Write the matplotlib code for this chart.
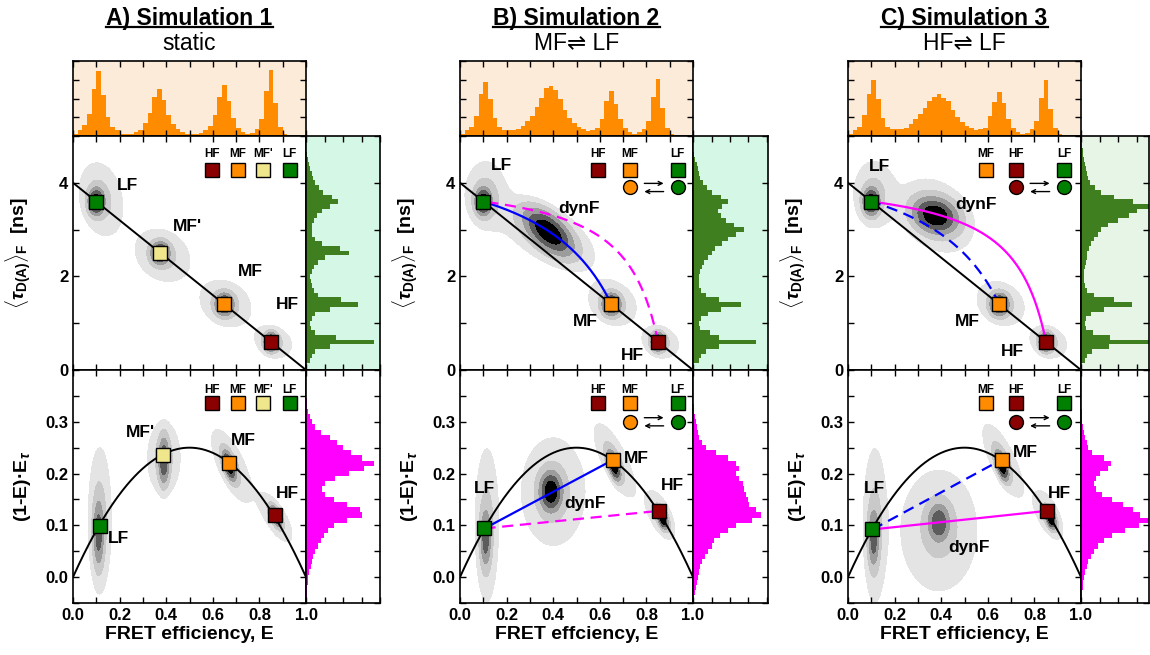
import matplotlib.pyplot as plt
import numpy as np
from matplotlib.lines import Line2D
from matplotlib.ticker import MultipleLocator

plt.rcParams['font.family'] = ['Liberation Sans', 'DejaVu Sans']
plt.rcParams['font.weight'] = 'bold'
plt.rcParams['axes.labelweight'] = 'bold'
plt.rcParams['mathtext.fontset'] = 'custom'
plt.rcParams['mathtext.rm'] = 'Liberation Sans'
plt.rcParams['mathtext.it'] = 'Liberation Sans:italic'
plt.rcParams['mathtext.bf'] = 'Liberation Sans:bold'
plt.rcParams['axes.linewidth'] = 1.2

W, H = 1150, 655
TAU_D0 = 4.0

titles = ['A) Simulation 1', 'B) Simulation 2', 'C) Simulation 3']
subtitles = ['static', 'MF\u21cc LF', 'HF\u21cc LF']
xlabels = ['FRET efficiency, E', 'FRET effciency, E', 'FRET efficiency, E']

# FRET efficiency histograms, 50 bins of 0.02 between 0 and 1
e_hist_a = [0.1, 0.3, 0.6, 1.2, 2.5, 3.45, 2.2, 1.0, 0.5, 0.3,
            0.12, 0.1, 0.1, 0.2, 0.3, 0.7, 1.25, 2.1, 2.5, 1.9,
            1.1, 0.65, 0.4, 0.2, 0.12, 0.1, 0.1, 0.15, 0.3, 0.55,
            1.1, 2.1, 2.7, 1.85, 0.95, 0.45, 0.2, 0.1, 0.15, 0.35,
            0.9, 2.4, 3.5, 1.75, 0.5, 0.12, 0, 0, 0, 0]
e_hist_b = [0.1, 0.3, 0.5, 1.05, 2.25, 2.9, 2.0, 0.95, 0.5, 0.3,
            0.3, 0.3, 0.35, 0.55, 0.8, 1.05, 1.55, 2.05, 2.55, 2.65,
            2.45, 1.95, 1.4, 0.95, 0.7, 0.5, 0.35, 0.25, 0.3, 0.45,
            0.9, 1.85, 2.4, 1.7, 0.9, 0.45, 0.2, 0.1, 0.2, 0.35,
            0.8, 2.1, 3.05, 1.5, 0.45, 0.1, 0, 0, 0, 0]
e_hist_c = [0.1, 0.3, 0.5, 1.1, 2.25, 3.0, 2.0, 0.95, 0.5, 0.4,
            0.35, 0.4, 0.45, 0.65, 0.9, 1.15, 1.5, 1.85, 2.1, 2.25,
            2.05, 1.85, 1.4, 1.0, 0.75, 0.55, 0.45, 0.3, 0.35, 0.45,
            1.05, 1.8, 2.35, 1.75, 0.9, 0.45, 0.2, 0.1, 0.15, 0.35,
            0.8, 2.05, 3.0, 1.45, 0.45, 0.12, 0, 0, 0, 0]

# lifetime histograms, bins of 0.1 ns centred on 0.0 ... 5.0
tau_hist_a = [0, 0, 0.2, 0.3, 0.5, 1.3, 3.7, 1.6, 0.5, 0.25,
              0.2, 0.3, 0.5, 1.3, 2.8, 1.9, 0.65, 0.45, 0.3, 0.25,
              0.2, 0.3, 0.45, 0.65, 1.0, 2.3, 1.85, 0.85, 0.5, 0.35,
              0.3, 0.35, 0.45, 0.6, 0.85, 1.3, 1.75, 1.4, 0.9, 0.7,
              0.5, 0.4, 0.3, 0.22, 0.15, 0.1, 0.05, 0, 0, 0, 0]
tau_hist_b = [0, 0, 0.3, 0.45, 0.7, 1.4, 3.4, 1.4, 0.9, 0.4,
              0.35, 0.45, 0.8, 1.5, 2.6, 1.4, 0.7, 0.45, 0.35, 0.35,
              0.35, 0.4, 0.5, 0.6, 0.8, 1.0, 1.2, 1.55, 1.9, 2.3,
              2.75, 2.2, 1.8, 1.5, 1.35, 1.55, 1.9, 1.5, 1.0, 0.75,
              0.55, 0.4, 0.3, 0.25, 0.2, 0.12, 0.05, 0, 0, 0, 0]
tau_hist_c = [0, 0, 0.2, 0.35, 0.6, 1.5, 3.65, 1.55, 0.65, 0.25,
              0.2, 0.25, 0.55, 1.25, 2.75, 1.8, 0.7, 0.3, 0.2, 0.15,
              0.15, 0.15, 0.2, 0.25, 0.3, 0.35, 0.45, 0.55, 0.7, 0.9,
              1.1, 1.45, 2.0, 2.6, 3.05, 3.65, 2.8, 1.8, 1.1, 0.75,
              0.5, 0.4, 0.3, 0.25, 0.2, 0.15, 0.12, 0.1, 0.05, 0, 0]

# (1-E)*E_tau histograms, bins of 0.01 centred on -0.05 ... 0.40
mix_hist_a = [0.02, 0.03, 0.05, 0.07, 0.1, 0.13, 0.18, 0.25, 0.3, 0.4,
              0.5, 0.65, 0.8, 0.95, 1.2, 1.5, 2.2, 3.0, 2.9, 2.2,
              1.5, 1.0, 0.85, 1.0, 1.55, 2.35, 3.15, 3.7, 3.0, 2.45,
              2.0, 1.65, 1.3, 0.8, 0.5, 0.3, 0.2, 0.12, 0.08, 0.04,
              0.02, 0, 0, 0, 0, 0]
mix_hist_b = [0.05, 0.08, 0.1, 0.15, 0.2, 0.27, 0.3, 0.4, 0.5, 0.65,
              0.8, 1.0, 1.15, 1.45, 1.9, 2.3, 3.2, 3.65, 3.4, 3.05,
              2.95, 2.85, 2.75, 2.7, 2.5, 2.3, 2.5, 2.3, 1.9, 1.25,
              0.7, 0.5, 0.35, 0.28, 0.22, 0.15, 0.12, 0.08, 0.05, 0.02,
              0, 0, 0, 0, 0, 0]
mix_hist_c = [0.03, 0.05, 0.07, 0.1, 0.13, 0.18, 0.22, 0.3, 0.38, 0.55,
              0.7, 0.9, 1.25, 1.7, 2.4, 3.15, 3.7, 3.2, 2.8, 2.25,
              1.7, 1.15, 0.8, 0.7, 0.8, 1.0, 1.45, 1.6, 1.25, 0.6,
              0.4, 0.3, 0.2, 0.15, 0.1, 0.08, 0.05, 0.03, 0, 0,
              0, 0, 0, 0, 0, 0]

# FRET states shown as squares
colors = {'HF': '#8b0000', 'MF': '#ff8c00', "MF'": '#f0e68c', 'LF': '#008000'}
states_a = ['LF', "MF'", 'MF', 'HF']
states_bc = ['LF', 'MF', 'HF']
eff_a = [0.10, 0.375, 0.65, 0.85]
tau_a = [3.6, 2.5, 1.4, 0.6]
eff_low_a = [0.115, 0.385, 0.67, 0.865]
mix_low_a = [0.098, 0.235, 0.22, 0.12]
eff_bc = [0.10, 0.65, 0.85]
tau_bc = [3.6, 1.4, 0.6]
eff_low_b = [0.105, 0.655, 0.855]
mix_low_b = [0.094, 0.226, 0.128]
eff_low_c = [0.105, 0.66, 0.855]
mix_low_c = [0.092, 0.227, 0.128]

# key in the upper right corner
key_a = ['HF', 'MF', "MF'", 'LF']
key_eff_a = [0.595, 0.707, 0.817, 0.93]
key_b = ['HF', 'MF', 'LF']
key_eff_b = [0.592, 0.73, 0.935]
key_c = ['MF', 'HF', 'LF']
key_eff_c = [0.593, 0.72, 0.927]
exch_b = ['MF', 'LF']
exch_c = ['HF', 'LF']

# dynamic FRET lines: (from, to, colour, style)
dyn_b = [('LF', 'MF', '#0000ff', '-'), ('LF', 'HF', '#ff00ff', '--')]
dyn_c = [('LF', 'HF', '#ff00ff', '-'), ('LF', 'MF', '#0000ff', '--')]

# population labels: (text, E, value)
labels_up_a = [('LF', 0.235, 3.95), ("MF'", 0.49, 3.06), ('MF', 0.76, 2.1), ('HF', 0.92, 1.39)]
labels_lo_a = [("MF'", 0.29, 0.279), ('MF', 0.73, 0.263), ('HF', 0.92, 0.161), ('LF', 0.197, 0.075)]
labels_up_b = [('LF', 0.18, 4.38), ('dynF', 0.51, 3.46), ('MF', 0.54, 1.03), ('HF', 0.74, 0.32)]
labels_lo_b = [('LF', 0.107, 0.171), ('MF', 0.755, 0.229), ('HF', 0.91, 0.177), ('dynF', 0.536, 0.142)]
labels_up_c = [('LF', 0.137, 4.35), ('dynF', 0.55, 3.53), ('MF', 0.514, 1.03), ('HF', 0.706, 0.39)]
labels_lo_c = [('LF', 0.115, 0.171), ('MF', 0.76, 0.241), ('HF', 0.906, 0.161), ('dynF', 0.521, 0.058)]

# 2D populations: (E, y, sigma_E, sigma_y, rho, weight)
pops_up_a = [(0.12, 3.65, 0.06, 0.5, -0.2, 0.1), (0.1, 3.6, 0.018, 0.15, 0.0, 1.0),
             (0.385, 2.45, 0.075, 0.36, -0.2, 0.1), (0.375, 2.5, 0.02, 0.12, 0.0, 1.0),
             (0.655, 1.42, 0.07, 0.32, -0.2, 0.1), (0.65, 1.4, 0.02, 0.12, 0.0, 1.0),
             (0.86, 0.6, 0.05, 0.22, -0.2, 0.1), (0.85, 0.6, 0.015, 0.1, 0.0, 1.0)]
pops_lo_a = [(0.115, 0.11, 0.032, 0.09, 0.0, 0.1), (0.11, 0.085, 0.012, 0.035, 0.0, 0.5),
             (0.39, 0.23, 0.045, 0.045, 0.0, 0.1), (0.39, 0.225, 0.012, 0.025, 0.0, 0.6),
             (0.68, 0.215, 0.055, 0.045, -0.7, 0.1), (0.67, 0.215, 0.015, 0.015, -0.6, 1.0),
             (0.87, 0.115, 0.045, 0.03, -0.7, 0.1), (0.87, 0.118, 0.012, 0.01, -0.6, 1.0)]
pops_up_b = [(0.11, 3.75, 0.055, 0.45, 0.0, 0.1), (0.1, 3.6, 0.018, 0.15, 0.0, 1.0),
             (0.37, 2.9, 0.13, 0.47, -0.6, 0.1), (0.38, 2.95, 0.055, 0.26, -0.6, 1.0),
             (0.655, 1.42, 0.065, 0.3, -0.2, 0.1), (0.65, 1.4, 0.02, 0.12, 0.0, 1.0),
             (0.86, 0.6, 0.05, 0.22, -0.2, 0.1), (0.85, 0.6, 0.015, 0.1, 0.0, 1.0)]
pops_lo_b = [(0.115, 0.1, 0.032, 0.095, 0.0, 0.1), (0.11, 0.075, 0.012, 0.03, 0.0, 0.5),
             (0.4, 0.165, 0.088, 0.067, 0.0, 0.1), (0.39, 0.165, 0.025, 0.02, 0.0, 1.0),
             (0.665, 0.225, 0.055, 0.045, -0.75, 0.1), (0.66, 0.215, 0.015, 0.015, -0.6, 1.0),
             (0.86, 0.12, 0.04, 0.03, -0.6, 0.1), (0.87, 0.112, 0.012, 0.01, -0.5, 1.0)]
pops_up_c = [(0.11, 3.75, 0.055, 0.45, 0.0, 0.1), (0.1, 3.6, 0.018, 0.15, 0.0, 1.0),
             (0.38, 3.3, 0.1, 0.5, -0.3, 0.1), (0.375, 3.3, 0.05, 0.2, -0.2, 1.0),
             (0.655, 1.42, 0.065, 0.3, -0.2, 0.1), (0.65, 1.4, 0.02, 0.12, 0.0, 1.0),
             (0.86, 0.6, 0.05, 0.22, -0.2, 0.1), (0.85, 0.6, 0.015, 0.1, 0.0, 1.0)]
pops_lo_c = [(0.115, 0.1, 0.032, 0.095, 0.0, 0.1), (0.11, 0.075, 0.012, 0.03, 0.0, 0.5),
             (0.39, 0.09, 0.105, 0.075, 0.0, 0.1), (0.39, 0.105, 0.025, 0.02, 0.0, 0.6),
             (0.665, 0.225, 0.055, 0.045, -0.75, 0.1), (0.66, 0.215, 0.015, 0.015, -0.6, 1.0),
             (0.86, 0.12, 0.04, 0.03, -0.6, 0.1), (0.87, 0.112, 0.012, 0.01, -0.5, 1.0)]

panels = [
    dict(e_hist=e_hist_a, tau_hist=tau_hist_a, mix_hist=mix_hist_a, states=states_a,
         eff=eff_a, tau=tau_a, eff_low=eff_low_a, mix_low=mix_low_a, key=key_a,
         key_eff=key_eff_a, exch=None, dyn=[], lab_up=labels_up_a, lab_lo=labels_lo_a,
         pops_up=pops_up_a, pops_lo=pops_lo_a, side_bg='#d5f8e6', left=73, side_right=380),
    dict(e_hist=e_hist_b, tau_hist=tau_hist_b, mix_hist=mix_hist_b, states=states_bc,
         eff=eff_bc, tau=tau_bc, eff_low=eff_low_b, mix_low=mix_low_b, key=key_b,
         key_eff=key_eff_b, exch=exch_b, dyn=dyn_b, lab_up=labels_up_b, lab_lo=labels_lo_b,
         pops_up=pops_up_b, pops_lo=pops_lo_b, side_bg='#d5f8e6', left=460, side_right=768),
    dict(e_hist=e_hist_c, tau_hist=tau_hist_c, mix_hist=mix_hist_c, states=states_bc,
         eff=eff_bc, tau=tau_bc, eff_low=eff_low_c, mix_low=mix_low_c, key=key_c,
         key_eff=key_eff_c, exch=exch_c, dyn=dyn_c, lab_up=labels_up_c, lab_lo=labels_lo_c,
         pops_up=pops_up_c, pops_lo=pops_lo_c, side_bg='#e6f5e6', left=848, side_right=1149),
]

levels = [0.03, 0.08, 0.2, 0.4, 0.7, 100]
greys = ['#e4e4e4', '#c9c9c9', '#9c9c9c', '#5c5c5c', '#000000']


def rect(x0, y0, x1, y1):
    return [x0 / W, 1 - y1 / H, (x1 - x0) / W, (y1 - y0) / H]


def density(pops, X, Y):
    Z = np.zeros_like(X)
    for mx, my, sx, sy, rho, w in pops:
        dx = (X - mx) / sx
        dy = (Y - my) / sy
        Z += w * np.exp(-(dx**2 - 2 * rho * dx * dy + dy**2) / (2 * (1 - rho**2)))
    return Z


def dynamic_line(t1, t2):
    # species fraction x of state 1 -> (E, fluorescence weighted lifetime)
    x = np.linspace(0, 1, 200)
    tx = x * t1 + (1 - x) * t2
    tf = (x * t1**2 + (1 - x) * t2**2) / tx
    return 1 - tx / TAU_D0, tf


def ticks_in(ax, **kw):
    ax.tick_params(which='both', direction='in', top=True, right=True,
                   length=4, width=1, labelsize=12, **kw)


fig = plt.figure(figsize=(W / 100, H / 100), dpi=100)
e_edges = np.linspace(0, 1, 51)
tau_edges = np.arange(52) * 0.1 - 0.05
mix_edges = np.arange(47) * 0.01 - 0.055
e_grid = np.linspace(0, 1, 300)

for i, p in enumerate(panels):
    x0 = p['left']
    x1 = x0 + 233
    sx1 = p['side_right']

    # top: FRET efficiency histogram
    ax_t = fig.add_axes(rect(x0, 61, x1, 136))
    ax_t.set_facecolor('#fdebd9')
    ax_t.stairs(p['e_hist'], e_edges, fill=True, color='#ff8c00')
    ax_t.set_xlim(0, 1)
    ax_t.set_ylim(0, 4)
    ax_t.xaxis.set_major_locator(MultipleLocator(0.1))
    ax_t.yaxis.set_major_locator(MultipleLocator(1))
    ticks_in(ax_t, labelbottom=False, labelleft=False)

    # upper: lifetime vs E
    ax_u = fig.add_axes(rect(x0, 136, x1, 370))
    X, Y = np.meshgrid(e_grid, np.linspace(0, 5, 300))
    ax_u.contourf(X, Y, density(p['pops_up'], X, Y), levels=levels, colors=greys, zorder=1)
    ax_u.plot(e_grid, TAU_D0 * (1 - e_grid), color='black', lw=1.4, zorder=3)
    idx = {s: k for k, s in enumerate(p['states'])}
    for a, b, col, ls in p['dyn']:
        ee, tt = dynamic_line(p['tau'][idx[a]], p['tau'][idx[b]])
        ax_u.plot(ee, tt, color=col, ls=ls, lw=1.6, dashes=(5, 3) if ls == '--' else (None, None),
                  zorder=4)
    for s, e, t in zip(p['states'], p['eff'], p['tau']):
        ax_u.plot(e, t, 's', ms=10, mfc=colors[s], mec='black', mew=1.0, zorder=6)
    for txt, e, t in p['lab_up']:
        ax_u.text(e, t, txt, ha='center', va='center', fontsize=12.5, zorder=7)
    ax_u.set_xlim(0, 1)
    ax_u.set_ylim(0, 5)
    ax_u.xaxis.set_major_locator(MultipleLocator(0.1))
    ax_u.yaxis.set_major_locator(MultipleLocator(2))
    ax_u.yaxis.set_minor_locator(MultipleLocator(1))
    ticks_in(ax_u, labelbottom=False)
    ax_u.set_ylabel(r'$\langle\tau_{\mathbf{D(A)}}\rangle_{\mathbf{F}}$  [ns]', fontsize=14)
    ax_u.yaxis.set_label_coords(-0.17, 0.5)

    # lower: (1-E)*E_tau vs E
    ax_l = fig.add_axes(rect(x0, 370, x1, 603))
    X, Y = np.meshgrid(e_grid, np.linspace(-0.05, 0.4, 300))
    ax_l.contourf(X, Y, density(p['pops_lo'], X, Y), levels=levels, colors=greys, zorder=1)
    ax_l.plot(e_grid, e_grid * (1 - e_grid), color='black', lw=1.4, zorder=3)
    for a, b, col, ls in p['dyn']:
        ax_l.plot([p['eff_low'][idx[a]], p['eff_low'][idx[b]]],
                  [p['mix_low'][idx[a]], p['mix_low'][idx[b]]],
                  color=col, ls=ls, lw=1.6, dashes=(5, 3) if ls == '--' else (None, None), zorder=4)
    for s, e, m in zip(p['states'], p['eff_low'], p['mix_low']):
        ax_l.plot(e, m, 's', ms=10, mfc=colors[s], mec='black', mew=1.0, zorder=6)
    for txt, e, m in p['lab_lo']:
        ax_l.text(e, m, txt, ha='center', va='center', fontsize=12.5, zorder=7)
    ax_l.set_xlim(0, 1)
    ax_l.set_ylim(-0.05, 0.4)
    ax_l.xaxis.set_major_locator(MultipleLocator(0.2))
    ax_l.xaxis.set_minor_locator(MultipleLocator(0.1))
    ax_l.yaxis.set_major_locator(MultipleLocator(0.1))
    ax_l.yaxis.set_minor_locator(MultipleLocator(0.05))
    ticks_in(ax_l)
    ax_l.set_yticks([0.0, 0.1, 0.2, 0.3])
    ax_l.set_ylabel('(1-E)\u00b7E$_\\tau$', fontsize=14)
    ax_l.yaxis.set_label_coords(-0.17, 0.5)
    ax_l.set_xlabel(xlabels[i], fontsize=14, labelpad=2)
    for lab in ax_u.get_yticklabels() + ax_l.get_xticklabels() + ax_l.get_yticklabels():
        lab.set_fontweight('bold')

    # key: squares, and exchanging species as circles
    for ax, ky, ly, cy in [(ax_u, 4.28, 4.62, 3.9), (ax_l, 0.337, 0.362, 0.3)]:
        for s, e in zip(p['key'], p['key_eff']):
            ax.plot(e, ky, 's', ms=9.5, mfc=colors[s], mec='black', mew=1.0, zorder=6)
            ax.text(e, ly, s, ha='center', va='center', fontsize=8.5, zorder=7)
        if p['exch']:
            ce = [p['key_eff'][p['key'].index(s)] for s in p['exch']]
            for s, e in zip(p['exch'], ce):
                ax.plot(e, cy, 'o', ms=10, mfc=colors[s], mec='black', mew=1.0, zorder=6)
            span = ce[1] - ce[0]
            dy = 0.035 * (ax.get_ylim()[1] - ax.get_ylim()[0])
            ax.annotate('', xy=(ce[0] + 0.76 * span, cy + dy / 2), xytext=(ce[0] + 0.24 * span, cy + dy / 2),
                        arrowprops=dict(arrowstyle='->', lw=1, color='black', mutation_scale=7))
            ax.annotate('', xy=(ce[0] + 0.24 * span, cy - dy / 2), xytext=(ce[0] + 0.76 * span, cy - dy / 2),
                        arrowprops=dict(arrowstyle='->', lw=1, color='black', mutation_scale=7))

    # side histograms
    cmax = (sx1 - x1) / 18.5
    ax_g = fig.add_axes(rect(x1, 136, sx1, 370))
    ax_g.set_facecolor(p['side_bg'])
    ax_g.stairs(p['tau_hist'], tau_edges, fill=True, color='#3f7f1f', orientation='horizontal')
    ax_g.set_ylim(0, 5)
    ax_g.set_xlim(0, cmax)
    ax_g.xaxis.set_major_locator(MultipleLocator(1))
    ax_g.yaxis.set_major_locator(MultipleLocator(1))
    ticks_in(ax_g, labelbottom=False, labelleft=False, left=False)

    ax_m = fig.add_axes(rect(x1, 370, sx1, 603))
    ax_m.stairs(p['mix_hist'], mix_edges, fill=True, color='#ff00ff', orientation='horizontal')
    ax_m.set_ylim(-0.05, 0.4)
    ax_m.set_xlim(0, cmax)
    ax_m.xaxis.set_major_locator(MultipleLocator(1))
    ax_m.yaxis.set_major_locator(MultipleLocator(0.05))
    ticks_in(ax_m, labelbottom=False, labelleft=False, left=False)

    # titles
    xc = (x0 + x1) / 2 / W
    t = fig.text(xc, 1 - 18 / H, titles[i], ha='center', va='center', fontsize=16.5, weight='bold')
    fig.text(xc, 1 - 44 / H, subtitles[i], ha='center', va='center', fontsize=16.5, weight='normal')
    fig.canvas.draw()
    bb = t.get_window_extent()
    fig.add_artist(Line2D([bb.x0 / W, bb.x1 / W], [1 - 27 / H] * 2, transform=fig.transFigure,
                          color='black', lw=1.6))

fig.savefig('out.png', dpi=100)
